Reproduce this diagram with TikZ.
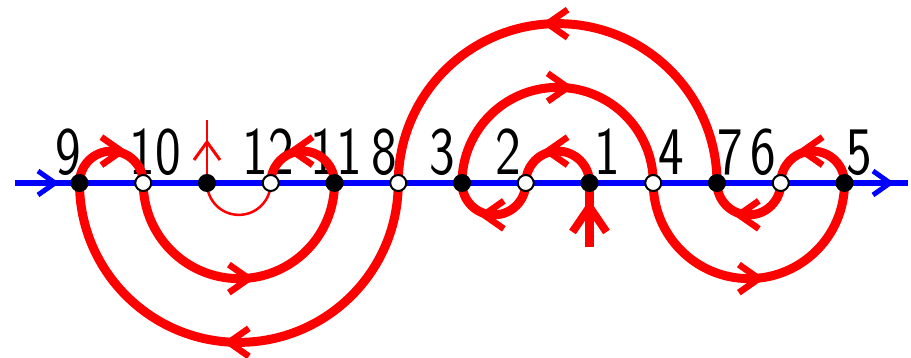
\documentclass[tikz,border=0pt]{standalone}
\usetikzlibrary{decorations.markings}
\begin{document}
\begin{tikzpicture}[x=1pt,y=1pt,
  redarc/.style={draw=red,line width=9pt},
  thinred/.style={draw=red,line width=2.5pt},
  chevmark/.style={postaction={decorate,decoration={markings,mark=at position 0.5 with {\draw[red,line width=6.5pt,line cap=butt] (-10,14)--(10,0)--(-10,-14);}}}},
  blackdot/.style={circle,fill=black,minimum size=18pt,inner sep=0pt},
  whitedot/.style={circle,fill=white,draw=black,line width=2pt,minimum size=16pt,inner sep=0pt},
  lab/.style={anchor=base,inner sep=0pt,font=\fontsize{68}{68}\selectfont\sffamily,xscale=0.8}
]
\useasboundingbox (0,0) rectangle (911,358);
% points on the line
\coordinate (p9) at (79.5,175);
\coordinate (p10) at (143.25,175);
\coordinate (pu) at (207,175);
\coordinate (p12) at (270.75,175);
\coordinate (p11) at (334.5,175);
\coordinate (p8) at (398.25,175);
\coordinate (p3) at (462,175);
\coordinate (p2) at (525.75,175);
\coordinate (p1) at (589.5,175);
\coordinate (p4) at (653.25,175);
\coordinate (p7) at (717,175);
\coordinate (p6) at (780.75,175);
\coordinate (p5) at (844.5,175);
\coordinate (bs) at (15,175);
\coordinate (be) at (908,175);
\coordinate (s1) at (589.5,111);
\coordinate (tu) at (207,238);
% labels
\node[lab] (l9) at (68.5,183) {9};
\node[lab] (l10) at (155,183) {10};
\node[lab] (l12) at (268,183) {12};
\node[lab] (l11) at (336,183) {11};
\node[lab] (l8) at (384,183) {8};
\node[lab] (l3) at (442,183) {3};
\node[lab] (l2) at (508,183) {2};
\node[lab] (l1) at (607,183) {1};
\node[lab] (l4) at (671,183) {4};
\node[lab] (l7) at (730,183) {7};
\node[lab] (l6) at (763,183) {6};
\node[lab] (l5) at (859,183) {5};
% blue axis
\draw[blue,line width=5.5pt,postaction={decorate,decoration={markings,
  mark=at position 40pt with {\draw[blue,line width=5pt] (-17,12)--(0,0)--(-17,-12);},
  mark=at position 875pt with {\draw[blue,line width=5pt] (-17,12)--(0,0)--(-17,-12);}}}] (bs) -- (be);
% red arcs
\draw[redarc,chevmark] (p9) arc[start angle=180,end angle=0,radius=31.875];
\draw[redarc,chevmark] (p8) arc[start angle=0,end angle=-180,radius=159.375];
\draw[redarc,chevmark] (p10) arc[start angle=180,end angle=360,radius=95.625];
\draw[redarc,chevmark] (p11) arc[start angle=0,end angle=180,radius=31.875];
\draw[thinred] (pu) arc[start angle=180,end angle=360,radius=31.875];
\draw[redarc,chevmark] (p7) arc[start angle=0,end angle=180,radius=159.375];
\draw[redarc,chevmark] (p3) arc[start angle=180,end angle=0,radius=95.625];
\draw[redarc,chevmark] (p2) arc[start angle=0,end angle=-180,radius=31.875];
\draw[redarc,chevmark] (p1) arc[start angle=0,end angle=180,radius=31.875];
\draw[redarc,chevmark] (p4) arc[start angle=180,end angle=360,radius=95.625];
\draw[redarc,chevmark] (p6) arc[start angle=0,end angle=-180,radius=31.875];
\draw[redarc,chevmark] (p5) arc[start angle=0,end angle=180,radius=31.875];
% stubs
\draw[redarc,postaction={decorate,decoration={markings,mark=at position 40pt with {\draw[red,line width=8pt,line cap=butt] (-25,17)--(0,0)--(-25,-17);}}}] (s1) -- (p1);
\draw[thinred,postaction={decorate,decoration={markings,mark=at position 41pt with {\draw[red,line width=3pt] (-18,13)--(0,0)--(-18,-13);}}}] (pu) -- (tu);
% dots
\node[blackdot] (d9) at (p9) {};
\node[whitedot] (d10) at (p10) {};
\node[blackdot] (du) at (pu) {};
\node[whitedot] (d12) at (p12) {};
\node[blackdot] (d11) at (p11) {};
\node[whitedot] (d8) at (p8) {};
\node[blackdot] (d3) at (p3) {};
\node[whitedot] (d2) at (p2) {};
\node[blackdot] (d1) at (p1) {};
\node[whitedot] (d4) at (p4) {};
\node[blackdot] (d7) at (p7) {};
\node[whitedot] (d6) at (p6) {};
\node[blackdot] (d5) at (p5) {};
\end{tikzpicture}
\end{document}
